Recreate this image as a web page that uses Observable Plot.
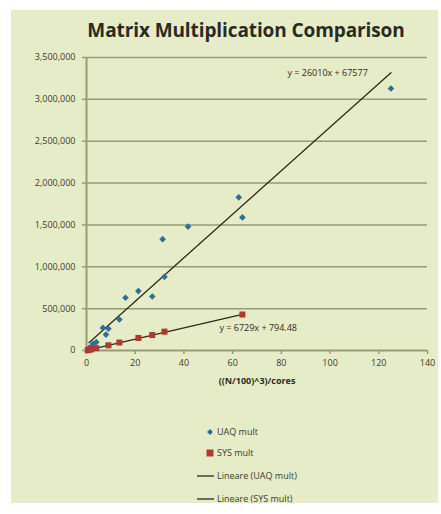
<!DOCTYPE html>
<html>
<head>
<meta charset="utf-8">
<script src="https://cdn.jsdelivr.net/npm/d3@7"></script>
<script src="https://cdn.jsdelivr.net/npm/@observablehq/plot@0.6"></script>
<style>
  html, body { margin: 0; padding: 0; background: #ffffff; }
  #wrap { position: relative; width: 441px; height: 514px; overflow: hidden; font-family: "Open Sans", sans-serif; color: #3b3b2b; }
  #panel { position: absolute; left: 11px; top: 10px; width: 427px; height: 493px; background: #e7ecc8; }
  #title { position: absolute; left: 0; top: 17px; width: 492px; text-align: center; font-size: 19px; font-weight: 700; color: #2a2a1e; white-space: nowrap; letter-spacing: -0.1px; }
  #chart { position: absolute; left: 0; top: 0; }
  .leg { position: absolute; left: 190px; font-size: 9px; line-height: 12px; display: flex; align-items: center; white-space: nowrap; }
  .leg svg { margin-right: 3px; }
</style>
</head>
<body>
<div id="wrap">
  <div id="panel"></div>
  <div id="chart"></div>
  <div id="title"></div>
  <div id="legend"></div>
</div>
<script>
const titleText = "Matrix Multiplication Comparison";
const xLabel = "((N/100)^3)/cores";

// UAQ mult points
const uaqX = [125, 64, 62.5, 41.7, 31.25, 32, 27, 21.3, 16, 13.5, 9, 8, 6.75, 4, 2.67, 2, 1];
const uaqY = [3130000, 1590000, 1830000, 1480000, 1330000, 880000, 645000, 710000, 630000, 370000, 260000, 190000, 270000, 100000, 80000, 50000, 30000];

// SYS mult points
const sysX = [64, 32, 27, 21.3, 13.5, 9, 4, 2, 1, 0.5];
const sysY = [430000, 225000, 185000, 150000, 95000, 62000, 28000, 14000, 8000, 4000];

// Trendline coefficients (from the chart labels)
const uaqSlope = 26010, uaqIntercept = 67577;
const sysSlope = 6729, sysIntercept = 794.48;
const uaqEq = "y = 26010x + 67577";
const sysEq = "y = 6729x + 794.48";

const xTicks = [0, 20, 40, 60, 80, 100, 120, 140];
const yTicks = [0, 500000, 1000000, 1500000, 2000000, 2500000, 3000000, 3500000];

const legendItems = ["UAQ mult", "SYS mult", "Lineare (UAQ mult)", "Lineare (SYS mult)"];

const uaq = uaqX.map((x, i) => ({x, y: uaqY[i]}));
const sys = sysX.map((x, i) => ({x, y: sysY[i]}));
const trend = (xs, a, b) => { const lo = d3.min(xs), hi = d3.max(xs); return [{x: lo, y: a * lo + b}, {x: hi, y: a * hi + b}]; };
const uaqTrend = trend(uaqX, uaqSlope, uaqIntercept);
const sysTrend = trend(sysX, sysSlope, sysIntercept);

const gridColor = "#959d74";
const blue = "#2f6f96";
const red = "#b23a2c";
const lineColor = "#2b2b18";

const chart = Plot.plot({
  width: 441,
  height: 400,
  marginLeft: 86,
  marginRight: 14,
  marginTop: 57,
  marginBottom: 50,
  style: { background: "transparent", fontFamily: "'Open Sans', sans-serif", fontSize: "9px", color: "#3b3b2b" },
  x: { domain: [0, 140], ticks: xTicks, tickFormat: d3.format("d") },
  y: { domain: [0, 3500000], ticks: yTicks, tickFormat: d3.format(",") },
  marks: [
    Plot.gridY(yTicks.filter(d => d > 0), { stroke: gridColor, strokeOpacity: 1, strokeWidth: 1.5 }),
    Plot.axisY({ ticks: yTicks, tickSize: 4, tickPadding: 7, stroke: gridColor, strokeWidth: 1.5, label: null }),
    Plot.axisX({ ticks: xTicks, tickSize: 4, tickPadding: 5, stroke: gridColor, strokeWidth: 1.5, label: null }),
    Plot.ruleX([0], { stroke: gridColor, strokeWidth: 2 }),
    Plot.ruleY([0], { stroke: gridColor, strokeWidth: 2 }),
    Plot.line(uaqTrend, { x: "x", y: "y", stroke: lineColor, strokeWidth: 1.3 }),
    Plot.line(sysTrend, { x: "x", y: "y", stroke: lineColor, strokeWidth: 1.3 }),
    Plot.dot(uaq, { x: "x", y: "y", symbol: "diamond2", r: 3, fill: blue, stroke: "none" }),
    Plot.dot(sys, { x: "x", y: "y", symbol: "square", r: 3.4, fill: red }),
    Plot.text([uaqEq], { x: 99, y: 3310000, text: d => d, fill: "#2b2b1e", fontSize: 9 }),
    Plot.text([sysEq], { x: 70.5, y: 263000, text: d => d, fill: "#2b2b1e", fontSize: 9 }),
    Plot.text([xLabel], { frameAnchor: "bottom", dy: 33, text: d => d, fontWeight: "bold", fill: "#2b2b1e", fontSize: 9 })
  ]
});
document.getElementById("chart").appendChild(chart);
document.getElementById("title").textContent = titleText;

// Legend
const legend = document.getElementById("legend");
const legTops = [426, 447, 470, 493];
legendItems.forEach((label, i) => {
  const div = document.createElement("div");
  div.className = "leg";
  div.style.top = legTops[i] + "px";
  let sw;
  if (i === 0) sw = `<svg width="24" height="12"><path d="M20,3 L23,6 L20,9 L17,6Z" fill="${blue}"/></svg>`;
  else if (i === 1) sw = `<svg width="24" height="12"><rect x="16.5" y="2.5" width="7" height="7" fill="${red}"/></svg>`;
  else sw = `<svg width="24" height="12"><line x1="7" x2="24" y1="6" y2="6" stroke="${lineColor}" stroke-width="1.3"/></svg>`;
  div.innerHTML = sw + `<span>${label}</span>`;
  legend.appendChild(div);
});
</script>
</body>
</html>
